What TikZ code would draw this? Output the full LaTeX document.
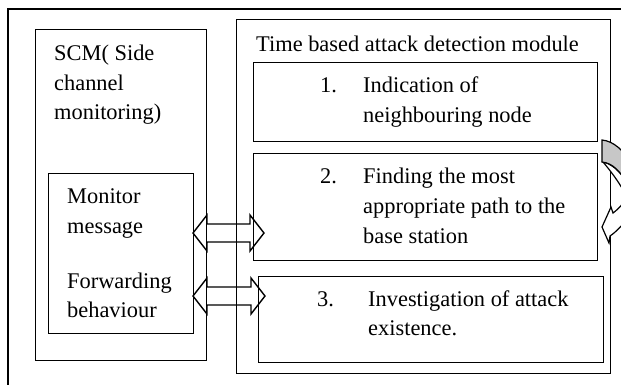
\documentclass[tikz,border=0pt]{standalone}
\usepackage{fontspec}
\setmainfont{Liberation Serif}
\begin{document}
\begin{tikzpicture}[x=1pt,y=-1pt,
  box/.style={draw,line width=1.4pt,inner sep=0pt,anchor=north west},
  txt/.style={anchor=base west,inner sep=0pt,font=\fontsize{22.4}{30}\selectfont},
  dbl/.style={draw,line width=1.4pt,line join=miter}]
\useasboundingbox (0,0) rectangle (621,384);
\clip (0,0) rectangle (621,384);
% outer frame (right and bottom edges outside the picture)
\draw[line width=1.4pt] (8,400) -- (8,9) -- (640,9);
% boxes
\node[box,minimum width=171pt,minimum height=331pt] (scm) at (35,29) {};
\node[box,minimum width=145pt,minimum height=160pt] (mon) at (48,173) {};
\node[box,minimum width=374pt,minimum height=354pt] (tad) at (236,19) {};
\node[box,minimum width=344pt,minimum height=79pt] (b1) at (253,62) {};
\node[box,minimum width=344pt,minimum height=107pt] (b2) at (253,153) {};
\node[box,minimum width=345pt,minimum height=86pt] (b3) at (258,276) {};
% texts
\node[txt] (s1) at (54,60) {SCM( Side};
\node[txt] (s2) at (54,90) {channel};
\node[txt] (s3) at (54,119) {monitoring)};
\node[txt] (tt) at (256,51) {Time based attack detection module};
\node[txt] (n1) at (320,92) {1.};
\node[txt] (a1) at (363,92) {Indication of};
\node[txt] (a2) at (363,122) {neighbouring node};
\node[txt] (n2) at (320,183) {2.};
\node[txt] (c1) at (363,183) {Finding the most};
\node[txt] (c2) at (363,213) {appropriate path to the};
\node[txt] (c3) at (363,243) {base station};
\node[txt] (n3) at (317,306) {3.};
\node[txt] (d1) at (368,306) {Investigation of attack};
\node[txt] (d2) at (368,335) {existence.};
\node[txt] (m1) at (67,203) {Monitor};
\node[txt] (m2) at (67,233) {message};
\node[txt] (m3) at (67,288) {Forwarding};
\node[txt] (m4) at (67,317) {behaviour};
% double arrows
\draw[dbl] (193,233) -- (207,215) -- (207,224) -- (250,224) -- (250,215) -- (264,233)
  -- (250,251) -- (250,242) -- (207,242) -- (207,251) -- cycle;
\draw[dbl] (193,296) -- (207,278) -- (207,287) -- (251,287) -- (251,278) -- (265,296)
  -- (251,314) -- (251,305) -- (207,305) -- (207,314) -- cycle;
% curved arrow on the right (mostly outside the picture)
\draw[line width=1.2pt,fill=white] (632,190) .. controls (626,200) and (620,208) .. (613,213)
  -- (611,207) -- (602,227) -- (609,243) -- (610,236)
  .. controls (616,232) and (624,224) .. (632,212) -- cycle;
\draw[line width=1.2pt,fill=white] (603,162) .. controls (614,164) and (624,176) .. (632,190)
  -- (632,212) .. controls (630,200) and (620,182) .. (603,162) -- cycle;
\draw[line width=1.2pt,fill=black!22] (602,140) -- (602,162)
  .. controls (612,163) and (620,170) .. (630,188)
  -- (632,165) .. controls (624,150) and (613,141) .. (602,140) -- cycle;
\end{tikzpicture}
\end{document}
